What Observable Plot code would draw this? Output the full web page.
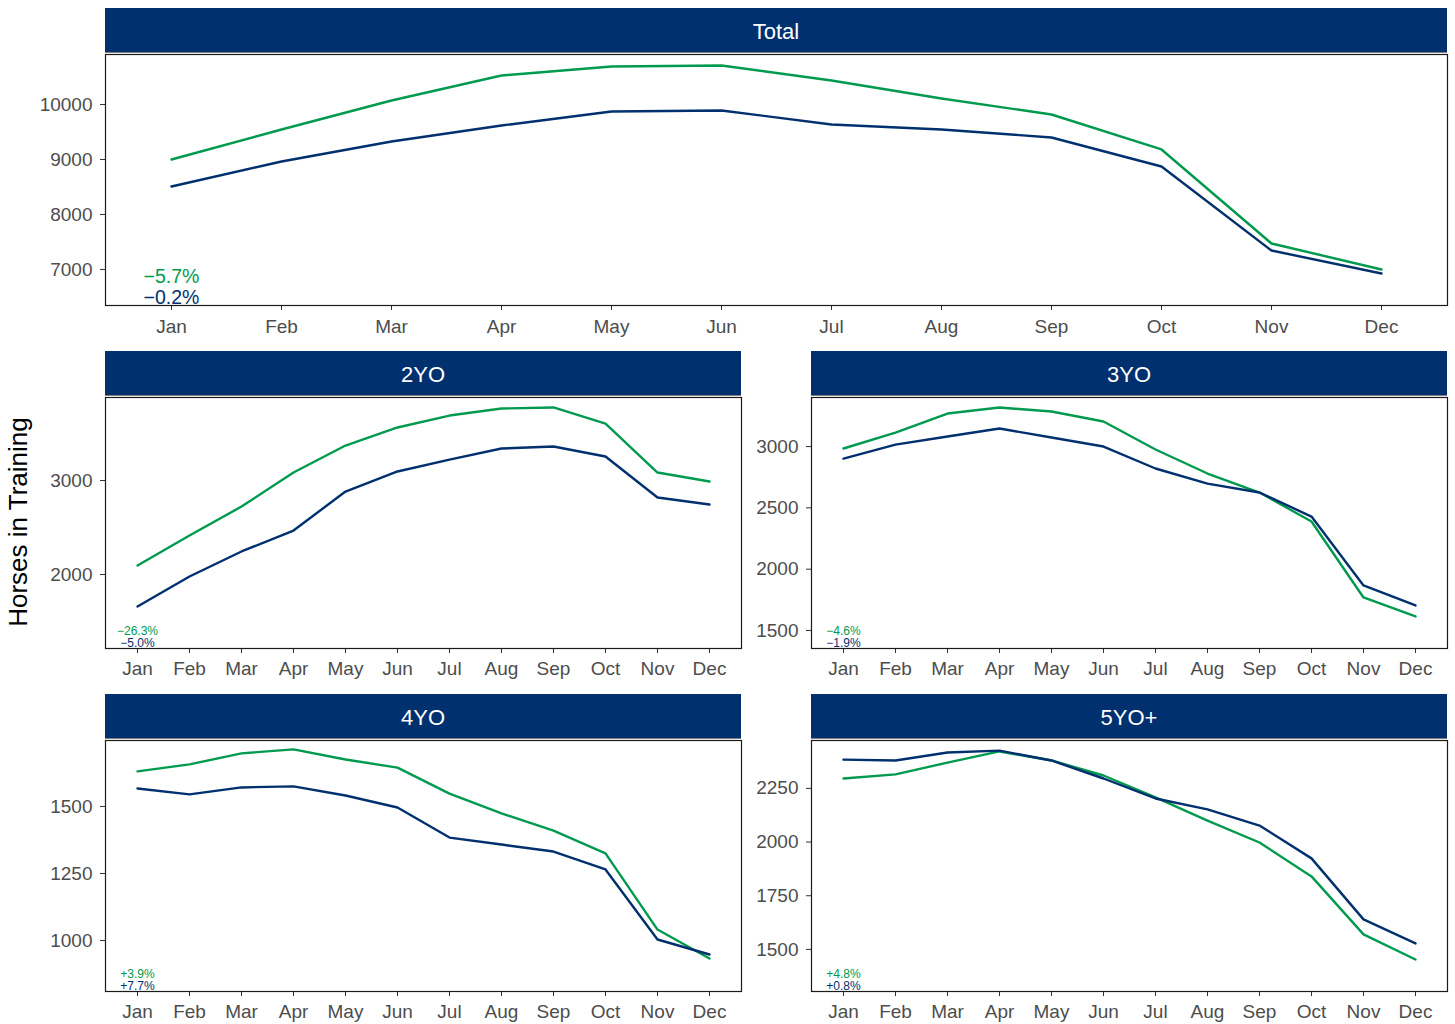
<!DOCTYPE html>
<html>
<head>
<meta charset="utf-8">
<script src="https://cdn.jsdelivr.net/npm/d3@7"></script>
<script src="https://cdn.jsdelivr.net/npm/@observablehq/plot@0.6"></script>
<style>
  html, body { margin: 0; padding: 0; background: #fff; }
  #root { position: relative; width: 1455px; height: 1024px; font-family: "Liberation Sans", Arial, sans-serif; overflow: hidden; }
  .hdr { position: absolute; height: 45px; box-sizing: border-box; padding-top: 3px; background: #00306e; color: #fff; font-size: 22px; display: flex; align-items: center; justify-content: center; border-bottom: 1px solid #7f7f7f; }
  .pl { position: absolute; }
  .pl svg { overflow: visible; }
  #ytitle { position: absolute; left: 18px; top: 522px; transform: translate(-50%, -50%) rotate(-90deg); font-size: 26px; color: #000; white-space: nowrap; }
</style>
</head>
<body>
<div id="root"><div id="ytitle">Horses in Training</div></div>
<script>
const months = ["Jan","Feb","Mar","Apr","May","Jun","Jul","Aug","Sep","Oct","Nov","Dec"];

// Series A (green) and series B (navy) per panel
const totalA = [9000, 9545, 10073, 10527, 10691, 10709, 10436, 10109, 9818, 9182, 7473, 7000];
const totalB = [8509, 8964, 9327, 9618, 9873, 9891, 9636, 9545, 9400, 8873, 7345, 6927];
const yo2A = [2096, 2415, 2723, 3085, 3372, 3564, 3691, 3766, 3777, 3606, 3085, 2989];
const yo2B = [1660, 1979, 2245, 2468, 2883, 3096, 3223, 3340, 3362, 3255, 2819, 2745];
const yo3A = [2984, 3114, 3269, 3318, 3286, 3204, 2976, 2780, 2625, 2389, 1769, 1614];
const yo3B = [2902, 3016, 3082, 3147, 3074, 3000, 2821, 2698, 2625, 2429, 1867, 1704];
const yo4A = [1631, 1657, 1698, 1713, 1675, 1645, 1548, 1474, 1410, 1325, 1041, 933];
const yo4B = [1567, 1545, 1571, 1575, 1541, 1496, 1384, 1358, 1332, 1265, 1004, 948];
const yo5A = [2296, 2315, 2370, 2422, 2380, 2310, 2208, 2100, 1998, 1840, 1570, 1453];
const yo5B = [2384, 2380, 2417, 2426, 2380, 2296, 2203, 2152, 2077, 1924, 1640, 1528];

const panelNames = ["Total", "2YO", "3YO", "4YO", "5YO+"];
const changeA = ["\u22125.7%", "\u221226.3%", "\u22124.6%", "+3.9%", "+4.8%"];
const changeB = ["\u22120.2%", "\u22125.0%", "\u22121.9%", "+7.7%", "+0.8%"];

const ticksTotal = [7000, 8000, 9000, 10000];
const ticks2 = [2000, 3000];
const ticks3 = [1500, 2000, 2500, 3000];
const ticks4 = [1000, 1250, 1500];
const ticks5 = [1500, 1750, 2000, 2250];

const GREEN = "#009a4e";
const NAVY = "#00306e";
const root = document.getElementById("root");

function panel(cfg) {
  const { idx, a, b, ticks, domain, left, top, width, marginLeft, marginRight, big } = cfg;
  const data = months.flatMap((m, i) => [
    { m, v: a[i], s: "A" },
    { m, v: b[i], s: "B" }
  ]);
  const innerH = 251;
  const mb = 44;
  const fs = big ? 19.5 : 12;
  const plot = Plot.plot({
    width, height: innerH + mb + 1,
    marginLeft, marginRight, marginTop: 1, marginBottom: mb,
    style: { fontFamily: "'Liberation Sans', Arial, sans-serif", fontSize: "19px", color: "#4d4d4d", background: "transparent" },
    x: { type: "point", domain: months, padding: 0.6, label: null },
    y: { domain, label: null },
    color: { domain: ["A", "B"], range: [GREEN, NAVY] },
    marks: [
      Plot.axisX({ tickSize: 5, tickPadding: big ? 9 : 8, label: null, stroke: "#333" }),
      Plot.axisY({ ticks, tickSize: 5, tickPadding: 8, tickFormat: d3.format("d"), label: null, stroke: "#333" }),
      Plot.line(data, { x: "m", y: "v", z: "s", stroke: "s", strokeWidth: 2.4 }),
      Plot.text([{ m: months[0], t: changeA[idx] }], { x: "m", text: "t", frameAnchor: "bottom", lineAnchor: "bottom", dy: big ? -23 : -14, fill: GREEN, fontSize: fs }),
      Plot.text([{ m: months[0], t: changeB[idx] }], { x: "m", text: "t", frameAnchor: "bottom", lineAnchor: "bottom", dy: big ? -2 : -2, fill: NAVY, fontSize: fs }),
      Plot.frame({ stroke: "#1a1a1a", strokeWidth: 1.2 })
    ]
  });
  const wrap = document.createElement("div");
  wrap.className = "pl";
  wrap.style.left = left + "px";
  wrap.style.top = (top - 1) + "px";
  wrap.appendChild(plot);
  root.appendChild(wrap);

  const hdr = document.createElement("div");
  hdr.className = "hdr";
  hdr.style.left = (left + marginLeft) + "px";
  hdr.style.width = (width - marginLeft - marginRight) + "px";
  hdr.style.top = (top - 46) + "px";
  hdr.textContent = panelNames[idx];
  root.appendChild(hdr);
}

panel({ idx: 0, a: totalA, b: totalB, ticks: ticksTotal, domain: [6345, 10909], left: 0, top: 54, width: 1455, marginLeft: 105, marginRight: 8, big: true });
panel({ idx: 1, a: yo2A, b: yo2B, ticks: ticks2, domain: [1213, 3883], left: 0, top: 397, width: 745, marginLeft: 105, marginRight: 4 });
panel({ idx: 2, a: yo3A, b: yo3B, ticks: ticks3, domain: [1353, 3400], left: 741, top: 397, width: 714, marginLeft: 70, marginRight: 8 });
panel({ idx: 3, a: yo4A, b: yo4B, ticks: ticks4, domain: [810, 1746], left: 0, top: 740, width: 745, marginLeft: 105, marginRight: 4 });
panel({ idx: 4, a: yo5A, b: yo5B, ticks: ticks5, domain: [1304, 2473], left: 741, top: 740, width: 714, marginLeft: 70, marginRight: 8 });
</script>
</body>
</html>
